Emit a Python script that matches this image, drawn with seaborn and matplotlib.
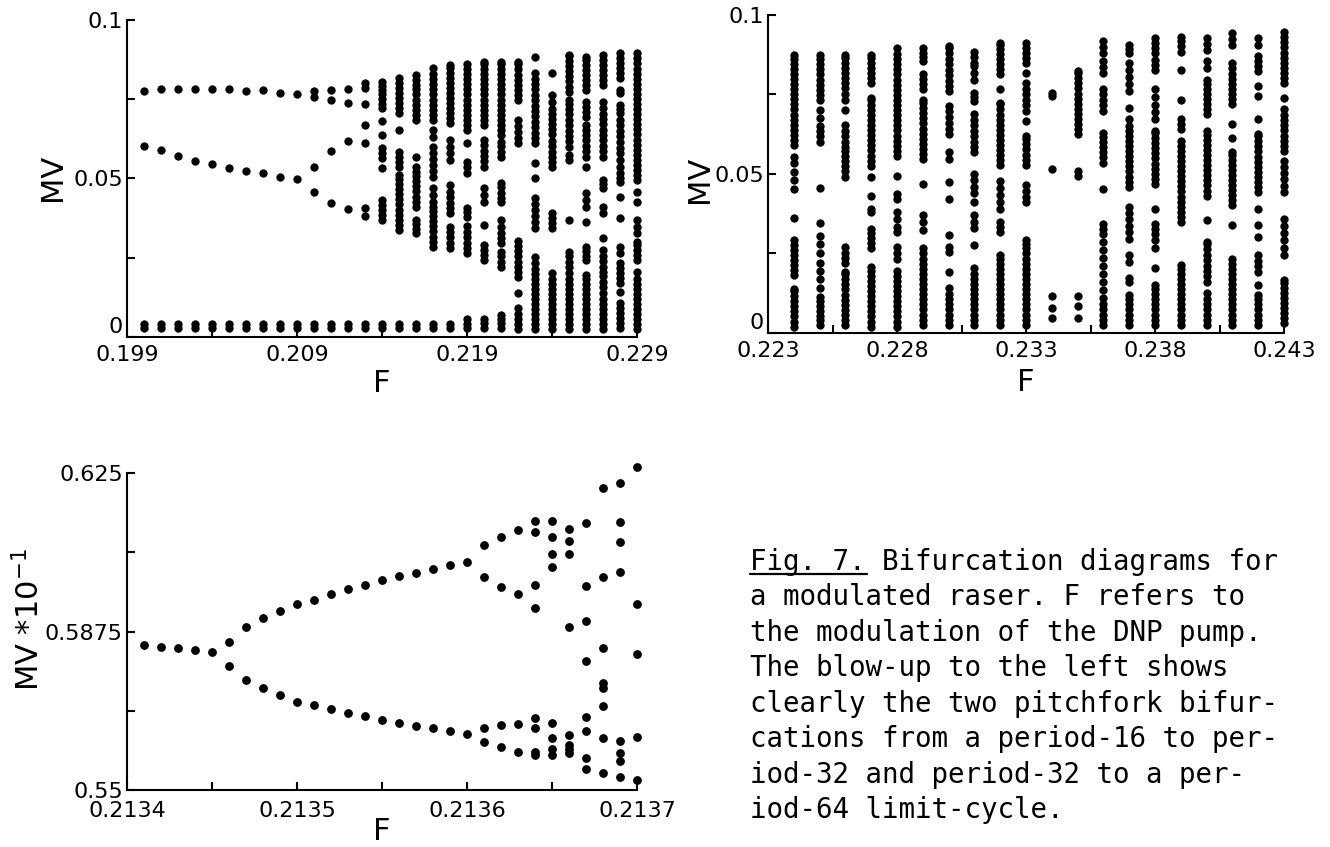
import matplotlib
matplotlib.use("Agg")
import matplotlib.pyplot as plt
from matplotlib.lines import Line2D
import numpy as np
import pandas as pd
import seaborn as sns

# ---------------------------------------------------------------------------
# Data
# ---------------------------------------------------------------------------
# Upper-left diagram: modulation F and the sampled MV values (units of 1e-3)
tl_F = [0.200, 0.201, 0.202, 0.203, 0.204, 0.205, 0.206, 0.207, 0.208, 0.209,
        0.210, 0.211, 0.212, 0.213, 0.214, 0.215, 0.216, 0.217, 0.218, 0.219,
        0.220, 0.221, 0.222, 0.223, 0.224, 0.225, 0.226, 0.227, 0.228, 0.229]
tl_mv_milli = [
    [2.8, 4.2, 60.4, 77.6],
    [2.8, 4.2, 59.0, 78.3],
    [2.8, 4.2, 57.2, 78.3],
    [2.8, 4.2, 55.6, 78.3],
    [2.8, 4.2, 54.6, 78.1],
    [2.8, 4.2, 53.4, 78.3],
    [2.8, 4.2, 52.4, 77.6],
    [2.8, 4.2, 51.7, 77.8],
    [2.8, 4.2, 50.4, 77.1],
    [2.8, 4.2, 49.7, 76.7],
    [2.8, 4.2, 45.6, 53.7, 75.6, 77.6],
    [2.8, 4.2, 42.2, 58.8, 74.8, 77.9],
    [2.8, 4.2, 40.3, 61.9, 73.9, 78.1],
    [2.8, 4.2, 38.2, 40.6, 61.3, 66.8, 73.4, 78.4, 80.0],
    [2.8, 4.2, 37.0, 38.5, 40.0, 41.6, 43.2, 53.4, 56.4, 58.0, 59.5, 63.7,
     68.2, 72.1, 73.6, 75.1, 76.6, 78.0, 79.3, 80.5],
    [2.8, 4.2, 33.8, 35.4, 37.0, 38.6, 40.2, 41.8, 43.4, 45.0, 46.6, 48.2,
     49.7, 51.1, 53.7, 55.3, 56.9, 58.5, 65.3, 70.6, 72.2, 73.8, 75.4, 77.0,
     78.6, 80.1, 81.6],
    [2.8, 4.2, 32.7, 34.1, 35.5, 36.9, 41.0, 42.6, 44.3, 45.9, 47.5, 49.1,
     50.7, 52.2, 53.7, 56.9, 68.5, 70.1, 71.7, 73.3, 74.9, 76.5, 78.1, 79.6,
     81.1, 82.6],
    [2.8, 4.2, 28.5, 30.1, 31.7, 33.3, 34.9, 36.5, 38.1, 39.6, 41.1, 42.7,
     44.8, 46.9, 50.6, 52.5, 54.4, 56.2, 57.9, 60.0, 63.2, 65.3, 68.5, 70.1,
     71.7, 73.3, 74.9, 76.5, 78.1, 79.7, 81.3, 82.9, 84.8],
    [2.8, 4.2, 28.0, 29.7, 31.4, 33.1, 34.8, 39.0, 40.7, 42.4, 44.1, 45.8,
     48.0, 55.8, 57.9, 60.0, 62.1, 67.4, 69.0, 70.6, 72.2, 73.8, 75.4, 77.0,
     78.6, 80.2, 81.8, 83.4, 85.0, 85.8],
    [2.8, 4.2, 5.6, 26.4, 28.1, 29.8, 31.5, 33.2, 35.0, 38.0, 39.5, 40.6,
     51.6, 53.5, 55.3, 61.1, 65.3, 66.9, 68.5, 70.1, 71.7, 73.3, 74.9, 76.5,
     78.1, 79.7, 81.3, 82.9, 84.5, 86.0],
    [2.8, 4.3, 5.8, 24.3, 25.9, 27.5, 29.0, 35.3, 42.7, 44.8, 46.9, 53.7,
     55.4, 57.1, 58.8, 60.6, 62.3, 66.9, 68.5, 70.1, 71.7, 73.3, 74.9, 76.5,
     78.1, 79.7, 81.3, 82.9, 84.5, 86.1, 86.9],
    [2.8, 4.3, 5.8, 6.9, 22.2, 23.8, 25.4, 26.9, 29.5, 31.1, 32.7, 34.8,
     36.9, 42.7, 44.0, 45.3, 47.4, 48.5, 56.9, 58.5, 60.1, 61.6, 63.7, 65.3,
     66.9, 68.5, 70.1, 71.7, 73.3, 74.9, 76.5, 78.1, 79.7, 81.3, 82.9, 84.5,
     86.1, 86.9],
    [2.6, 4.2, 5.8, 7.4, 9.0, 13.8, 19.0, 20.6, 22.2, 23.8, 25.4, 27.0, 28.6,
     30.2, 61.1, 62.9, 64.7, 66.6, 68.5, 74.8, 76.4, 78.0, 79.6, 81.2, 82.8,
     84.4, 86.0, 86.9],
    [2.4, 4.0, 5.6, 7.2, 8.8, 10.4, 12.0, 13.6, 15.2, 16.8, 18.4, 20.0, 21.6,
     23.2, 25.3, 34.3, 36.2, 38.1, 40.0, 41.9, 43.7, 50.1, 54.8, 61.1, 62.8,
     64.5, 66.2, 67.9, 69.6, 71.3, 73.0, 74.7, 76.4, 78.1, 79.8, 81.5, 83.2,
     88.4],
    [2.4, 4.0, 5.6, 7.2, 8.8, 10.4, 12.0, 13.6, 15.2, 16.8, 18.4, 20.1, 34.3,
     35.9, 37.5, 39.0, 53.7, 55.3, 56.9, 58.5, 60.1, 61.7, 64.0, 65.6, 67.2,
     68.8, 70.4, 72.0, 74.0, 76.3, 83.2],
    [2.4, 4.0, 5.6, 7.2, 8.8, 10.4, 12.0, 13.6, 15.2, 16.8, 18.4, 20.1, 22.2,
     23.8, 25.4, 26.9, 36.9, 55.8, 57.4, 60.0, 61.7, 63.4, 65.1, 66.8, 68.5,
     70.2, 71.9, 73.4, 74.8, 77.4, 79.0, 80.6, 82.2, 83.8, 85.4, 87.0, 88.5,
     89.0],
    [2.4, 4.0, 5.6, 7.2, 8.8, 10.4, 12.0, 13.6, 15.2, 16.8, 18.4, 19.6, 24.3,
     25.7, 27.1, 28.5, 36.4, 41.1, 43.2, 45.3, 53.7, 56.9, 58.6, 60.3, 62.0,
     63.7, 65.3, 66.9, 69.5, 71.1, 72.7, 74.2, 77.9, 79.5, 81.1, 82.7, 84.3,
     85.9, 87.5, 88.4],
    [2.4, 4.0, 5.6, 7.2, 8.8, 10.4, 12.0, 13.8, 15.9, 17.5, 19.1, 20.6, 22.2,
     23.9, 25.6, 27.4, 31.1, 39.0, 41.1, 46.9, 48.2, 49.5, 56.9, 58.6, 60.3,
     62.0, 63.7, 65.4, 67.1, 68.8, 70.5, 72.2, 74.2, 79.5, 81.1, 82.7, 84.3,
     85.9, 87.5, 89.0],
    [2.7, 4.3, 5.9, 7.5, 9.1, 10.6, 14.3, 16.9, 18.5, 20.1, 21.7, 23.2, 26.4,
     28.5, 37.4, 44.3, 49.0, 50.1, 51.6, 53.7, 55.8, 57.9, 59.7, 61.5, 63.3,
     65.1, 66.9, 68.5, 70.6, 72.0, 73.2, 76.9, 77.9, 81.6, 83.2, 84.8, 86.3,
     87.9, 89.5],
    [2.4, 4.0, 5.6, 7.2, 8.8, 10.4, 12.0, 13.6, 15.2, 16.8, 18.4, 20.6, 24.3,
     25.9, 27.5, 29.0, 30.0, 32.7, 34.8, 36.9, 42.7, 45.8, 49.5, 51.1, 52.7,
     54.3, 55.9, 57.5, 59.1, 60.7, 62.3, 63.9, 65.5, 67.1, 68.7, 70.3, 71.9,
     73.5, 75.1, 76.7, 78.3, 79.9, 81.5, 83.1, 84.7, 86.3, 87.9, 89.5],
]

# Upper-right diagram (units of 1e-3)
tr_F = [0.224, 0.225, 0.226, 0.227, 0.228, 0.229, 0.230, 0.231, 0.232, 0.233,
        0.234, 0.235, 0.236, 0.237, 0.238, 0.239, 0.240, 0.241, 0.242, 0.243]
tr_mv_milli = [
    [2.0, 3.6, 5.2, 6.8, 8.4, 10.0, 11.6, 13.2, 13.9, 18.2, 19.8, 21.4, 23.0,
     24.6, 26.2, 27.8, 29.2, 36.1, 45.2, 48.1, 50.7, 53.4, 55.5, 59.1, 60.7,
     62.3, 63.9, 65.5, 67.1, 68.7, 70.3, 71.9, 73.5, 75.1, 76.7, 78.3, 79.9,
     81.5, 83.1, 84.7, 86.3, 87.4],
    [2.5, 4.0, 5.5, 7.0, 8.5, 10.0, 11.4, 14.0, 17.0, 19.5, 22.0, 25.0, 28.0,
     30.5, 34.5, 45.5, 60.2, 61.8, 63.4, 65.0, 67.5, 70.1, 73.3, 74.9, 76.5,
     78.1, 79.7, 81.3, 82.9, 84.5, 86.1, 87.4],
    [2.5, 4.1, 5.7, 7.3, 8.9, 10.5, 12.1, 13.7, 15.3, 16.9, 18.5, 19.3, 21.9,
     23.6, 25.3, 27.1, 49.2, 50.8, 52.4, 54.0, 55.6, 57.2, 58.6, 60.2, 61.9,
     63.6, 65.4, 70.1, 73.3, 75.1, 76.9, 78.5, 80.1, 81.7, 83.3, 84.9, 86.5,
     87.4],
    [2.0, 3.6, 5.2, 6.8, 8.4, 10.0, 11.6, 13.2, 14.8, 16.4, 18.0, 19.6, 20.8,
     26.6, 28.2, 29.8, 31.3, 32.8, 38.0, 39.1, 43.2, 49.0, 52.6, 54.2, 55.8,
     57.4, 59.0, 60.6, 62.2, 63.8, 65.4, 67.0, 68.6, 70.2, 71.8, 73.4, 74.0,
     78.6, 80.2, 81.8, 83.4, 85.0, 86.6, 87.5],
    [2.0, 3.6, 5.2, 6.8, 8.4, 10.0, 11.6, 13.2, 14.8, 16.4, 18.0, 19.6, 23.4,
     25.2, 27.1, 31.8, 33.3, 35.9, 38.0, 42.2, 43.8, 49.5, 55.7, 57.3, 58.9,
     60.5, 62.1, 63.7, 65.3, 66.9, 68.5, 70.1, 71.7, 73.3, 74.9, 76.5, 78.1,
     79.7, 81.3, 82.9, 84.5, 86.1, 87.7, 89.6],
    [2.6, 4.2, 5.8, 7.4, 9.0, 10.6, 12.2, 13.8, 15.4, 17.0, 18.6, 20.2, 21.8,
     23.4, 25.0, 26.6, 32.3, 35.0, 37.0, 46.9, 54.7, 56.3, 57.9, 59.5, 61.1,
     62.7, 64.3, 65.9, 67.5, 69.1, 70.7, 72.3, 73.4, 76.6, 78.2, 79.8, 81.3,
     85.4, 86.8, 88.2, 89.6],
    [2.6, 4.2, 5.8, 7.4, 9.0, 10.6, 12.2, 14.0, 19.3, 25.5, 27.1, 30.7, 42.2,
     47.4, 54.7, 56.8, 62.5, 64.3, 66.1, 67.9, 69.7, 71.4, 76.0, 77.7, 79.4,
     81.1, 82.8, 84.5, 86.2, 87.9, 89.6, 90.1],
    [2.6, 4.2, 5.8, 7.4, 9.0, 10.6, 12.2, 13.8, 15.4, 17.0, 18.6, 20.3, 27.8,
     33.0, 35.0, 37.0, 41.1, 44.0, 46.0, 48.0, 50.0, 56.8, 58.5, 60.2, 61.9,
     63.6, 65.3, 67.0, 68.8, 73.0, 74.2, 75.5, 79.7, 81.8, 83.9, 84.9, 86.7,
     88.5],
    [2.6, 4.2, 5.8, 7.4, 9.0, 10.6, 12.2, 13.8, 15.4, 17.0, 18.6, 20.2, 21.8,
     23.4, 24.5, 31.8, 33.3, 34.9, 39.1, 41.3, 43.5, 45.7, 47.9, 52.7, 54.3,
     55.9, 57.5, 59.1, 60.7, 62.3, 63.9, 65.5, 67.1, 68.7, 70.3, 71.9, 72.4,
     76.6, 81.3, 82.9, 84.5, 86.1, 87.7, 89.3, 90.5, 91.1],
    [2.6, 4.2, 5.8, 7.4, 9.0, 10.6, 12.2, 13.8, 15.4, 17.0, 18.6, 20.2, 21.8,
     23.4, 25.0, 26.6, 28.0, 29.2, 41.1, 42.9, 44.7, 46.4, 52.7, 54.4, 56.1,
     57.8, 59.5, 61.0, 62.0, 66.7, 69.9, 71.6, 73.3, 75.0, 76.7, 78.6, 81.8,
     84.9, 86.5, 88.1, 89.7, 91.1],
    [4.8, 7.9, 11.5, 51.6, 74.4, 75.5],
    [4.8, 8.4, 11.5, 49.5, 51.1, 62.5, 64.1, 65.7, 67.3, 68.9, 70.5, 72.1,
     73.7, 75.3, 76.9, 78.5, 80.1, 81.7, 82.3],
    [2.6, 4.2, 5.8, 7.4, 9.0, 11.0, 13.5, 16.0, 18.5, 21.0, 23.5, 26.0, 28.5,
     31.0, 32.7, 34.4, 45.3, 53.6, 55.2, 56.8, 58.4, 60.0, 61.5, 63.0, 69.9,
     71.6, 73.3, 75.0, 76.6, 81.8, 83.6, 85.4, 88.0, 89.8, 91.7],
    [2.6, 4.2, 5.8, 7.4, 9.0, 10.6, 12.1, 16.1, 17.2, 22.4, 24.5, 29.7, 31.7,
     33.7, 35.7, 37.7, 39.6, 46.0, 47.6, 49.2, 50.8, 52.4, 54.0, 55.6, 57.2,
     58.8, 60.4, 62.0, 63.6, 65.2, 67.2, 70.9, 76.1, 78.3, 80.5, 82.7, 84.9,
     88.0, 89.3, 90.6],
    [2.6, 4.2, 5.8, 7.4, 9.0, 10.6, 12.2, 13.8, 15.2, 20.3, 26.6, 29.2, 31.0,
     32.7, 34.4, 39.1, 46.9, 48.5, 50.1, 51.7, 53.3, 54.9, 56.5, 58.1, 59.7,
     61.3, 62.9, 63.5, 67.2, 69.5, 71.8, 74.1, 76.6, 82.8, 84.4, 86.0, 88.0,
     89.6, 91.2, 92.7],
    [2.6, 4.2, 5.8, 7.4, 9.0, 10.6, 12.2, 13.8, 15.4, 17.0, 18.6, 20.2, 21.4,
     34.9, 36.5, 38.1, 39.7, 41.3, 42.9, 44.5, 46.1, 47.7, 49.3, 50.9, 52.5,
     54.1, 55.7, 57.3, 58.9, 60.4, 64.1, 65.6, 67.2, 73.4, 82.8, 88.5, 90.1,
     91.7, 93.2],
    [2.6, 4.2, 5.8, 7.4, 9.0, 10.6, 12.6, 16.1, 17.8, 19.5, 21.2, 22.9, 24.6,
     26.3, 28.0, 28.6, 35.4, 43.2, 44.8, 46.4, 48.0, 49.6, 51.2, 52.8, 54.4,
     56.0, 57.6, 59.2, 60.8, 62.4, 63.5, 68.8, 70.4, 72.0, 73.6, 75.2, 76.8,
     78.4, 79.7, 83.3, 85.4, 89.1, 90.9, 92.7],
    [2.6, 4.2, 5.8, 7.4, 9.0, 10.6, 12.2, 13.8, 15.4, 17.0, 18.6, 20.2, 21.8,
     23.4, 33.9, 40.1, 41.7, 43.3, 44.9, 46.5, 48.1, 49.7, 51.3, 52.9, 54.5,
     56.1, 56.8, 61.4, 65.6, 72.0, 73.6, 75.2, 76.8, 78.4, 80.0, 81.6, 83.2,
     84.9, 90.6, 92.5, 94.3],
    [2.6, 4.2, 5.8, 7.4, 9.0, 10.6, 12.0, 15.2, 19.3, 21.0, 22.7, 24.5, 30.2,
     33.9, 39.1, 44.3, 45.9, 47.5, 49.1, 50.7, 52.3, 53.9, 55.5, 57.1, 58.7,
     60.3, 61.9, 62.5, 67.2, 74.4, 77.6, 82.3, 83.9, 85.5, 87.0, 90.6, 92.7],
    [3.0, 4.6, 6.2, 7.8, 9.4, 11.0, 12.6, 14.2, 15.8, 16.6, 24.5, 26.8, 29.1,
     31.4, 33.7, 35.9, 44.3, 46.3, 48.3, 50.3, 52.3, 54.2, 57.3, 58.9, 60.5,
     62.1, 63.7, 65.3, 66.9, 68.5, 70.3, 74.0, 78.6, 80.2, 81.8, 83.4, 85.0,
     86.6, 88.2, 89.8, 91.4, 93.0, 94.8],
]

# Lower-left blow-up: MV in units of 1e-1
bl_F = [0.21341, 0.21342, 0.21343, 0.21344, 0.21345, 0.21346, 0.21347,
        0.21348, 0.21349, 0.21350, 0.21351, 0.21352, 0.21353, 0.21354,
        0.21355, 0.21356, 0.21357, 0.21358, 0.21359, 0.21360, 0.21361,
        0.21362, 0.21363, 0.21364, 0.21365, 0.21366, 0.21367, 0.21368,
        0.21369, 0.21370]
bl_mv = [
    [0.58427], [0.58388], [0.58356], [0.58309], [0.58270],
    [0.57939, 0.58490], [0.57600, 0.58860], [0.57419, 0.59073],
    [0.57237, 0.59246], [0.57080, 0.59404], [0.57001, 0.59506],
    [0.56907, 0.59640], [0.56812, 0.59758], [0.56749, 0.59861],
    [0.56654, 0.59979], [0.56576, 0.60058], [0.56513, 0.60137],
    [0.56465, 0.60239], [0.56394, 0.60318], [0.56331, 0.60397],
    [0.56127, 0.56465, 0.60042, 0.60798],
    [0.56016, 0.56529, 0.59814, 0.60995],
    [0.55906, 0.56568, 0.59640, 0.61153],
    [0.55827, 0.55906, 0.56458, 0.56702, 0.59309, 0.59861, 0.61113, 0.61373],
    [0.55819, 0.55961, 0.56229, 0.56592, 0.60278, 0.60594, 0.60995, 0.61373],
    [0.55882, 0.55961, 0.56064, 0.56300, 0.58852, 0.60594, 0.60901, 0.61176],
    [0.55488, 0.55764, 0.56394, 0.56733, 0.58049, 0.58994, 0.59822, 0.61318],
    [0.55410, 0.56229, 0.56986, 0.57419, 0.57537, 0.58348, 0.60042, 0.62145],
    [0.55315, 0.55685, 0.55882, 0.56158, 0.60168, 0.60861, 0.61334, 0.62264],
    [0.55236, 0.56253, 0.58207, 0.59400, 0.62634],
]

tl_xticks = [0.199, 0.204, 0.209, 0.214, 0.219, 0.224, 0.229]
tl_xticklabels = ["0.199", "", "0.209", "", "0.219", "", "0.229"]
tr_xticks = [0.223, 0.2255, 0.228, 0.2305, 0.233, 0.2355, 0.238, 0.2405, 0.243]
tr_xticklabels = ["0.223", "", "0.228", "", "0.233", "", "0.238", "", "0.243"]
top_yticks = [0.0, 0.025, 0.05, 0.075, 0.1]
top_yticklabels = ["0", "", "0.05", "", "0.1"]
bl_xticks = [0.2134, 0.21345, 0.2135, 0.21355, 0.2136, 0.21365, 0.2137]
bl_xticklabels = ["0.2134", "", "0.2135", "", "0.2136", "", "0.2137"]
bl_yticks = [0.55, 0.56875, 0.5875, 0.60625, 0.625]
bl_yticklabels = ["0.55", "", "0.5875", "", "0.625"]

caption_lines = [
    "Fig. 7. Bifurcation diagrams for",
    "a modulated raser. F refers to",
    "the modulation of the DNP pump.",
    "The blow-up to the left shows",
    "clearly the two pitchfork bifur-",
    "cations from a period-16 to per-",
    "iod-32 and period-32 to a per-",
    "iod-64 limit-cycle.",
]


def to_long(F, columns, scale):
    rows = [(f, v * scale) for f, col in zip(F, columns) for v in col]
    return pd.DataFrame(rows, columns=["F", "MV"])


# ---------------------------------------------------------------------------
# Style
# ---------------------------------------------------------------------------
sns.set_style("ticks")
plt.rcParams["font.family"] = ["DejaVu Sans"]
plt.rcParams.update({
    "axes.linewidth": 1.5,
    "axes.edgecolor": "black",
    "xtick.direction": "in",
    "ytick.direction": "in",
    "xtick.major.size": 5.5,
    "ytick.major.size": 5.5,
    "xtick.major.width": 1.5,
    "ytick.major.width": 1.5,
    "xtick.color": "black",
    "ytick.color": "black",
    "xtick.labelsize": 16,
    "ytick.labelsize": 16,
    "axes.labelsize": 22,
    "text.color": "black",
    "axes.labelcolor": "black",
})

W, H = 1330, 847
fig = plt.figure(figsize=(W / 100, H / 100), dpi=100)


def frac_box(x0, y0, x1, y1):
    # pixel box (left, top, right, bottom) -> figure fraction rect
    return [x0 / W, 1 - y1 / H, (x1 - x0) / W, (y1 - y0) / H]


ax_tl = fig.add_axes(frac_box(127, 20, 637, 337))
ax_tr = fig.add_axes(frac_box(768, 15, 1284, 333))
ax_bl = fig.add_axes(frac_box(127, 473, 637, 790))


def draw(ax, df, size):
    sns.scatterplot(data=df, x="F", y="MV", color="black", s=size,
                    linewidth=0, marker="o", ax=ax, legend=False,
                    clip_on=False)
    sns.despine(ax=ax)


draw(ax_tl, to_long(tl_F, tl_mv_milli, 1e-3), 36)
draw(ax_tr, to_long(tr_F, tr_mv_milli, 1e-3), 36)
draw(ax_bl, to_long(bl_F, bl_mv, 1.0), 40)

# Upper-left axes
ax_tl.set_xlim(0.199, 0.229)
ax_tl.set_ylim(0.0, 0.1)
ax_tl.set_xticks(tl_xticks, tl_xticklabels)
ax_tl.set_yticks(top_yticks, top_yticklabels)

# Upper-right axes
ax_tr.set_xlim(0.223, 0.243)
ax_tr.set_ylim(0.0, 0.1)
ax_tr.set_xticks(tr_xticks, tr_xticklabels)
ax_tr.set_yticks(top_yticks, top_yticklabels)

# Lower-left axes
ax_bl.set_xlim(0.2134, 0.2137)
ax_bl.set_ylim(0.55, 0.625)
ax_bl.set_xticks(bl_xticks, bl_xticklabels)
ax_bl.set_yticks(bl_yticks, bl_yticklabels)

for ax in (ax_tl, ax_tr):
    ax.tick_params(axis="x", pad=6)
    ax.tick_params(axis="y", pad=3)
    ax.get_yticklabels()[0].set_verticalalignment("bottom")
ax_bl.tick_params(axis="x", pad=8)
ax_bl.tick_params(axis="y", pad=3)

ax_tl.set_xlabel("F")
ax_tl.set_ylabel("MV")
ax_tl.xaxis.set_label_coords(0.5, -0.1)
ax_tl.yaxis.set_label_coords(-0.118, 0.505)

ax_tr.set_xlabel("F")
ax_tr.set_ylabel("MV")
ax_tr.xaxis.set_label_coords(0.5, -0.11)
ax_tr.yaxis.set_label_coords(-0.105, 0.484)

ax_bl.set_xlabel("F")
ax_bl.set_ylabel(r"MV $*$10$^{-1}$")
ax_bl.xaxis.set_label_coords(0.5, -0.085)
ax_bl.yaxis.set_label_coords(-0.16, 0.536)

# Caption block
x0 = 750
base0 = 569.5
step = 35.5
for i, line in enumerate(caption_lines):
    fig.text(x0 / W, 1 - (base0 + i * step) / H, line,
             family="DejaVu Sans Mono", fontsize=19.8, color="black",
             ha="left", va="baseline")
fig.add_artist(Line2D([x0 / W, 867 / W], [1 - 574 / H, 1 - 574 / H],
                      color="black", lw=1.6, transform=fig.transFigure))

fig.savefig("out.png", dpi=100, facecolor="white")
